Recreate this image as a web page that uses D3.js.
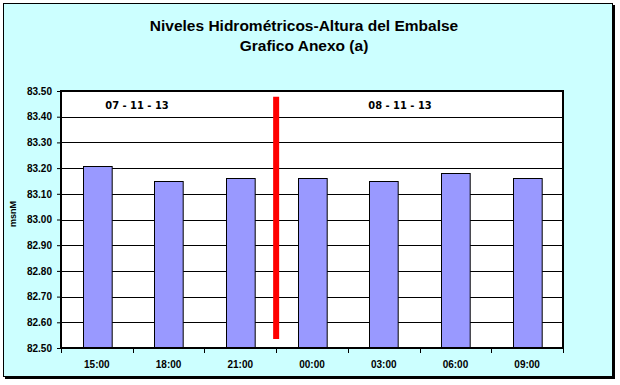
<!DOCTYPE html>
<html>
<head>
  <meta charset="UTF-8" />
  <title>Niveles Hidrométricos-Altura del Embalse</title>
  <style>
    body { margin: 0; background: #fff; font-family: "Liberation Sans", Arial, sans-serif; }
    svg text { font-weight: bold; fill: #000; }
  </style>
</head>
<body>
  <div id="chart"></div>
  <script src="https://d3js.org/d3.v7.min.js"></script>
  <script>
    // données
    const horas = ["15:00", "18:00", "21:00", "00:00", "03:00", "06:00", "09:00"];
    const alturas = [83.21, 83.15, 83.16, 83.16, 83.15, 83.18, 83.16];
    const yTicks = [82.5, 82.6, 82.7, 82.8, 82.9, 83.0, 83.1, 83.2, 83.3, 83.4, 83.5];
    const fechas = ["07 - 11 - 13", "08 - 11 - 13"];
    const corte = [83.478, 82.535];   // trait rouge entre 21:00 et 00:00

    const W = 620, H = 385;
    const margin = { top: 91, right: 57, bottom: 37, left: 61 },
      width = W - margin.left - margin.right,
      height = H - margin.top - margin.bottom;

    const svg = d3.select("#chart").append("svg")
      .attr("width", W)
      .attr("height", H);

    // cadre avec ombre
    svg.append("rect")
      .attr("x", 5).attr("y", 5)
      .attr("width", 610).attr("height", 374)
      .attr("fill", "#000");
    svg.append("rect")
      .attr("x", 3.5).attr("y", 3.5)
      .attr("width", 609).attr("height", 373)
      .attr("fill", "#ccffff")
      .attr("stroke", "#000")
      .attr("stroke-width", 1);

    svg.append("text")
      .attr("x", 304).attr("y", 31)
      .attr("text-anchor", "middle")
      .attr("font-size", 15.5)
      .text("Niveles Hidrométricos-Altura del Embalse");
    svg.append("text")
      .attr("x", 304).attr("y", 51)
      .attr("text-anchor", "middle")
      .attr("font-size", 15.5)
      .text("Grafico Anexo (a)");

    const x = d3.scaleBand()
      .domain(horas)
      .range([0, width])
      .paddingInner(0.6)
      .paddingOuter(0.3);

    const y = d3.scaleLinear()
      .domain([82.5, 83.5])
      .range([height, 0]);

    const g = svg.append("g")
      .attr("transform", `translate(${margin.left},${margin.top})`);

    g.append("rect")
      .attr("width", width)
      .attr("height", height)
      .attr("fill", "#fff");

    g.selectAll(".grid")
      .data(yTicks.slice(1, -1))
      .enter()
      .append("line")
      .attr("x1", 0).attr("x2", width)
      .attr("y1", d => Math.round(y(d)) + 0.5)
      .attr("y2", d => Math.round(y(d)) + 0.5)
      .attr("stroke", "#000");

    g.selectAll(".bar")
      .data(alturas)
      .enter()
      .append("rect")
      .attr("x", (d, i) => Math.round(x(horas[i])) + 0.5)
      .attr("y", d => Math.round(y(d)) + 0.5)
      .attr("width", x.bandwidth())
      .attr("height", d => height - Math.round(y(d)))
      .attr("fill", "#9999ff")
      .attr("stroke", "#000");

    // trait rouge
    const step = x.step();
    g.append("line")
      .attr("x1", 3 * step).attr("x2", 3 * step)
      .attr("y1", y(corte[0])).attr("y2", y(corte[1]))
      .attr("stroke", "#ff0000")
      .attr("stroke-width", 6);

    // étiquettes de dates
    g.selectAll(".fecha")
      .data(fechas)
      .enter()
      .append("text")
      .attr("x", (d, i) => i === 0 ? 76 : 339)
      .attr("y", 18)
      .attr("text-anchor", "middle")
      .attr("font-size", 11)
      .attr("font-family", "'DejaVu Sans Condensed', sans-serif")
      .text(d => d);

    // axe Y
    const yAxis = g.append("g")
      .call(d3.axisLeft(y).tickValues(yTicks).tickFormat(d3.format(".2f")).tickSize(4).tickPadding(5));
    yAxis.select(".domain").remove();
    yAxis.selectAll("line").attr("stroke", "#000");
    yAxis.selectAll("text").attr("font-size", 10).attr("font-family", "'Liberation Sans', Arial, sans-serif");

    // axe X : repères entre les catégories
    const xAxis = g.append("g")
      .attr("transform", `translate(0,${height})`);
    xAxis.selectAll("line")
      .data(d3.range(horas.length + 1))
      .enter()
      .append("line")
      .attr("x1", i => Math.round(i * step) + 0.5)
      .attr("x2", i => Math.round(i * step) + 0.5)
      .attr("y1", 0).attr("y2", 5)
      .attr("stroke", "#000");
    xAxis.selectAll("text")
      .data(horas)
      .enter()
      .append("text")
      .attr("x", d => x(d) + x.bandwidth() / 2)
      .attr("y", 20)
      .attr("text-anchor", "middle")
      .attr("font-size", 10)
      .text(d => d);

    // bordure de la zone de tracé
    g.append("rect")
      .attr("x", 0).attr("y", 0)
      .attr("width", width).attr("height", height)
      .attr("fill", "none")
      .attr("stroke", "#000")
      .attr("stroke-width", 2);

    svg.append("text")
      .attr("transform", "translate(15.5,214) rotate(-90)")
      .attr("text-anchor", "middle")
      .attr("font-size", 9)
      .text("msnM");
  </script>
</body>
</html>
